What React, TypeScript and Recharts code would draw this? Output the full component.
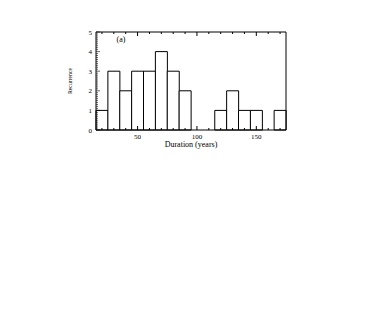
import React from "react";
import { BarChart, Bar, XAxis, YAxis } from "recharts";

// histogram bins (bin centre, years) and counts
const binCenters = [20, 30, 40, 50, 60, 70, 80, 90, 100, 110, 120, 130, 140, 150, 160, 170];
const counts = [1, 3, 2, 3, 3, 4, 3, 2, 0, 0, 1, 2, 1, 1, 0, 1];

const xTicks = [20, 30, 40, 50, 60, 70, 80, 90, 100, 110, 120, 130, 140, 150, 160, 170];
const xLabelled = [50, 100, 150];
const yTicks = Array.from({ length: 51 }, (_, i) => i / 10);

const data = binCenters.map((c, i) => ({ center: c, label: String(c), count: counts[i] }));

const font = "'Liberation Serif', 'DejaVu Serif', serif";
const line = { stroke: "#000", strokeWidth: 1 };

const isMajorY = (v: number) => Math.abs(v - Math.round(v)) < 1e-6;

// inward tick marks (IDL style) drawn by custom tick renderers
const BottomTick = (props: any) => {
  const { x, y, payload } = props;
  const major = xLabelled.includes(payload.value);
  return (
    <g>
      <line x1={x} x2={x} y1={y} y2={y - (major ? 4 : 2)} stroke="#000" />
      {major && (
        <text x={x} y={y + 9} textAnchor="middle" fontSize={7} fontFamily={font} fill="#000">
          {payload.value}
        </text>
      )}
    </g>
  );
};

const TopTick = (props: any) => {
  const { x, y, payload } = props;
  const major = xLabelled.includes(payload.value);
  return <line x1={x} x2={x} y1={y} y2={y + (major ? 4 : 2)} stroke="#000" />;
};

const LeftTick = (props: any) => {
  const { x, y, payload } = props;
  const major = isMajorY(payload.value);
  return (
    <g>
      <line x1={x} x2={x + (major ? 4 : 2)} y1={y} y2={y} stroke="#000" strokeWidth={0.6} />
      {major && (
        <text x={x - 4} y={y + 2.5} textAnchor="end" fontSize={7} fontFamily={font} fill="#000">
          {Math.round(payload.value)}
        </text>
      )}
    </g>
  );
};

const RightTick = (props: any) => {
  const { x, y, payload } = props;
  const major = isMajorY(payload.value);
  return <line x1={x} x2={x - (major ? 4 : 2)} y1={y} y2={y} stroke="#000" strokeWidth={0.6} />;
};

const App = () => {
  return (
    <BarChart
      width={300}
      height={160}
      data={data}
      margin={{ top: 23, right: 21, left: 74, bottom: 16 }}
      barCategoryGap={0}
      barGap={0}
    >
      <XAxis
        xAxisId="num"
        dataKey="center"
        type="number"
        domain={[15, 175]}
        ticks={xTicks}
        interval={0}
        height={22}
        tickSize={0}
        tickMargin={0}
        tickLine={false}
        axisLine={line}
        tick={<BottomTick />}
        label={{ value: "Duration (years)", position: "insideBottom", offset: 5, fontSize: 8, fontFamily: font, fill: "#000" }}
      />
      <XAxis
        xAxisId="top"
        orientation="top"
        dataKey="center"
        type="number"
        domain={[15, 175]}
        ticks={xTicks}
        interval={0}
        height={1}
        tickSize={0}
        tickMargin={0}
        tickLine={false}
        axisLine={line}
        tick={<TopTick />}
        label={{
          content: () => (
            <text x={113} y={34} fontFamily={font} fontSize={8} fill="#000" textAnchor="middle">(a)</text>
          ),
        }}
      />
      <XAxis xAxisId="bins" dataKey="label" type="category" hide height={0} padding={{ left: 0, right: 0 }} />
      <YAxis
        yAxisId="y"
        type="number"
        domain={[0, 5]}
        ticks={yTicks}
        interval={0}
        width={14}
        tickSize={0}
        tickMargin={0}
        tickLine={false}
        axisLine={line}
        tick={<LeftTick />}
        label={{
          content: () => (
            <text
              x={0}
              y={0}
              transform="translate(64,73) rotate(-90)"
              fontFamily={font}
              fontSize={7}
              fill="#000"
              textAnchor="middle"
              textLength={26}
              lengthAdjust="spacingAndGlyphs"
            >
              Recurrence
            </text>
          ),
        }}
      />
      <YAxis
        yAxisId="right"
        orientation="right"
        type="number"
        domain={[0, 5]}
        ticks={yTicks}
        interval={0}
        width={1}
        tickSize={0}
        tickMargin={0}
        tickLine={false}
        axisLine={line}
        tick={<RightTick />}
      />
      <Bar
        dataKey="count"
        xAxisId="bins"
        yAxisId="y"
        fill="#fff"
        stroke="#000"
        strokeWidth={1}
        isAnimationActive={false}
      />
    </BarChart>
  );
};

export default App;
